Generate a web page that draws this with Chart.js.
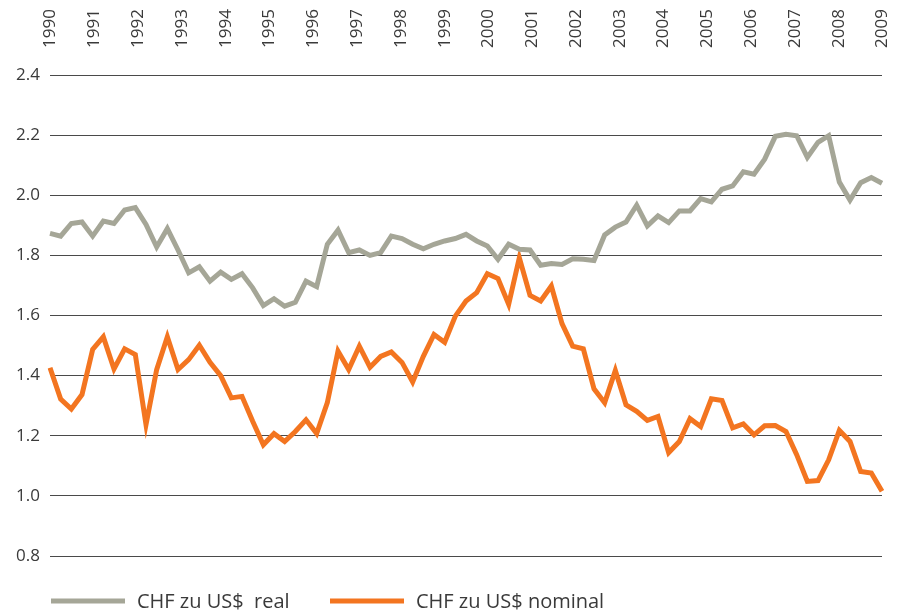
<!DOCTYPE html>
<html>
<head>
<meta charset="utf-8">
<script src="https://cdn.jsdelivr.net/npm/chart.js@4"></script>
<style>
  html, body { margin: 0; padding: 0; background: #fff; }
  #wrap { width: 901px; height: 615px; }
</style>
</head>
<body>
<div id="wrap"><canvas id="myChart"></canvas></div>
<script>
// Years shown on the top axis
const years = ['1990','1991','1992','1993','1994','1995','1996','1997','1998','1999',
               '2000','2001','2002','2003','2004','2005','2006','2007','2008','2009'];

// Quarterly values, 1990 Q1 onwards
const chf_real = [
  1.873, 1.864, 1.906, 1.911, 1.864, 1.914, 1.906, 1.951, 1.959, 1.903,
  1.828, 1.889, 1.818, 1.742, 1.762, 1.714, 1.744, 1.720, 1.739, 1.692,
  1.633, 1.656, 1.631, 1.644, 1.714, 1.696, 1.837, 1.884, 1.809, 1.818,
  1.800, 1.809, 1.864, 1.856, 1.837, 1.822, 1.837, 1.848, 1.856, 1.870,
  1.848, 1.831, 1.787, 1.837, 1.820, 1.818, 1.767, 1.773, 1.770, 1.789,
  1.787, 1.783, 1.868, 1.894, 1.911, 1.967, 1.898, 1.931, 1.909, 1.948,
  1.948, 1.989, 1.978, 2.020, 2.031, 2.078, 2.070, 2.120, 2.196, 2.203,
  2.198, 2.126, 2.176, 2.198, 2.044, 1.984, 2.042, 2.059, 2.040
];
const chf_nominal = [
  1.426, 1.322, 1.289, 1.337, 1.487, 1.529, 1.422, 1.489, 1.470, 1.237,
  1.420, 1.529, 1.420, 1.453, 1.501, 1.444, 1.400, 1.326, 1.331, 1.248,
  1.170, 1.207, 1.181, 1.214, 1.253, 1.207, 1.310, 1.481, 1.420, 1.498,
  1.428, 1.464, 1.479, 1.444, 1.379, 1.464, 1.537, 1.511, 1.598, 1.648,
  1.676, 1.739, 1.723, 1.637, 1.792, 1.667, 1.648, 1.698, 1.573, 1.498,
  1.489, 1.356, 1.310, 1.417, 1.303, 1.281, 1.251, 1.264, 1.144, 1.181,
  1.257, 1.231, 1.323, 1.317, 1.226, 1.239, 1.203, 1.233, 1.234, 1.214,
  1.137, 1.048, 1.051, 1.120, 1.218, 1.181, 1.081, 1.076, 1.015
];

const series_names = ['CHF zu US$  real', 'CHF zu US$ nominal'];

// one label per quarter for the (hidden) data axis
var quarters = [];
for (let i = 0; i < chf_real.length; i++) {
  quarters[i] = (1990 + Math.floor(i / 4)) + ' Q' + (i % 4 + 1);
}

const textColor = '#3a3a3a';
const gridColor = '#4a4a4a';

// Draws the line legend under the plot
const lineLegend = {
  id: 'lineLegend',
  afterDraw(chart) {
    const ctx = chart.ctx;
    const y = chart.chartArea.bottom + 45;
    const starts = [51, 330];
    ctx.save();
    ctx.font = '20px "Open Sans"';
    ctx.textBaseline = 'middle';
    chart.data.datasets.forEach(function(ds, i) {
      const x = starts[i];
      ctx.strokeStyle = ds.borderColor;
      ctx.lineWidth = 5;
      ctx.beginPath();
      ctx.moveTo(x, y);
      ctx.lineTo(x + 74, y);
      ctx.stroke();
      ctx.fillStyle = textColor;
      ctx.fillText(ds.label, x + 86, y + 1);
    });
    ctx.restore();
  }
};

new Chart(document.getElementById('myChart'), {
  type: 'line',
  data: {
    labels: quarters,
    datasets: [{
      label: series_names[0],
      data: chf_real,
      borderColor: '#a5a697',
      borderWidth: 5,
      pointRadius: 0,
      tension: 0
    }, {
      label: series_names[1],
      data: chf_nominal,
      borderColor: '#f37520',
      borderWidth: 5,
      pointRadius: 0,
      tension: 0
    }]
  },
  plugins: [lineLegend],
  options: {
    responsive: true,
    maintainAspectRatio: false,
    animation: false,
    layout: { padding: { top: 0, right: 19, bottom: 59, left: 0 } },
    plugins: {
      legend: { display: false },
      tooltip: { enabled: false }
    },
    scales: {
      x: {
        display: false
      },
      years: {
        type: 'category',
        labels: years,
        position: 'top',
        offset: false,
        grid: { display: false, drawTicks: false },
        border: { display: false },
        ticks: {
          autoSkip: false,
          minRotation: 90,
          maxRotation: 90,
          padding: 27,
          labelOffset: 21,
          color: textColor,
          font: { family: 'Open Sans', size: 17 }
        },
        afterFit: function(scale) {
          scale.height = 75;
          scale.paddingLeft = 0;
          scale.paddingRight = 0;
        }
      },
      y: {
        min: 0.8,
        max: 2.4,
        grid: { color: gridColor, lineWidth: 1, drawTicks: false },
        border: { display: false },
        ticks: {
          stepSize: 0.2,
          padding: 10,
          color: textColor,
          font: { family: 'Open Sans', size: 17 },
          callback: function(v) { return v.toFixed(1); }
        },
        afterFit: function(scale) { scale.width = 50; }
      }
    }
  }
});
</script>
</body>
</html>
